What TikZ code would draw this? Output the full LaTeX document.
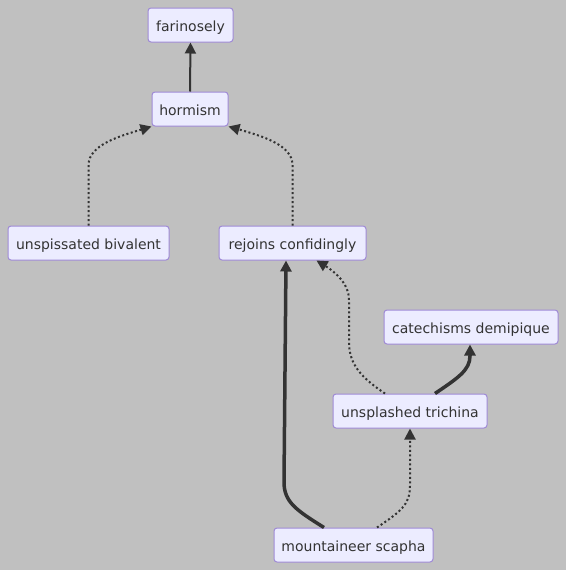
\documentclass[tikz,border=0pt]{standalone}
\usepackage{fontspec}
\setmainfont{DejaVu Sans}
\usetikzlibrary{arrows.meta}
\definecolor{bg}{HTML}{C0C0C0}
\definecolor{nodefill}{HTML}{ECECFF}
\definecolor{nodeborder}{HTML}{9F8AD6}
\definecolor{ink}{HTML}{333333}
\tikzset{
  box/.style={draw=nodeborder, fill=nodefill, rounded corners=3pt, line width=1pt,
    minimum height=34pt, inner sep=0pt, text=ink, text height=13.4pt, text depth=0pt,
    font=\fontsize{14}{16}\selectfont},
  tip/.style={-{Triangle[length=11pt,width=11pt]}},
  plainedge/.style={ink, line width=2pt, tip},
  thickedge/.style={ink, line width=3.5pt, tip},
  dotedge/.style={ink, line width=2pt, dash pattern=on 2pt off 2.5pt, tip},
}
\begin{document}
\begin{tikzpicture}[x=1pt,y=-1pt]
\useasboundingbox[fill=bg] (0,0) rectangle (566,570);
\node[box, minimum width=85pt] (fa) at (190.5,25) {farinosely};
\node[box, minimum width=76pt] (hm) at (190,109) {hormism};
\node[box, minimum width=161pt] (ub) at (88.5,243) {unspissated bivalent};
\node[box, minimum width=147pt] (rc) at (292.5,243) {rejoins confidingly};
\node[box, minimum width=174pt] (cd) at (471,327) {catechisms demipique};
\node[box, minimum width=154pt] (ut) at (410,411) {unsplashed trichina};
\node[box, minimum width=159pt] (ms) at (353.5,545) {mountaineer scapha};

\draw[plainedge] (hm.north) -- (fa.south);
\draw[dotedge] (ub.north) -- (88.5,165) .. controls (88.5,145) and (120,136) .. (hm.south west);
\draw[dotedge] (rc.north) -- (292.5,165) .. controls (292.5,145) and (262,136) .. (hm.south east);
\draw[thickedge] ([xshift=-29.5pt]ms.north) .. controls (296,510) and (284,502) .. (284,482) -- ([xshift=-6.5pt]rc.south);
\draw[dotedge] ([xshift=-25pt]ut.north) .. controls (362,378) and (349,365) .. (349,342) -- (349,300) .. controls (349,282) and (332,270) .. ([xshift=24pt]rc.south);
\draw[thickedge] ([xshift=25pt]ut.north) .. controls (458,378) and (470,370) .. (470,356) -- ([xshift=-1pt]cd.south);
\draw[dotedge] ([xshift=23.5pt]ms.north) .. controls (400,512) and (410,505) .. (410,486) -- (ut.south);
\end{tikzpicture}
\end{document}
